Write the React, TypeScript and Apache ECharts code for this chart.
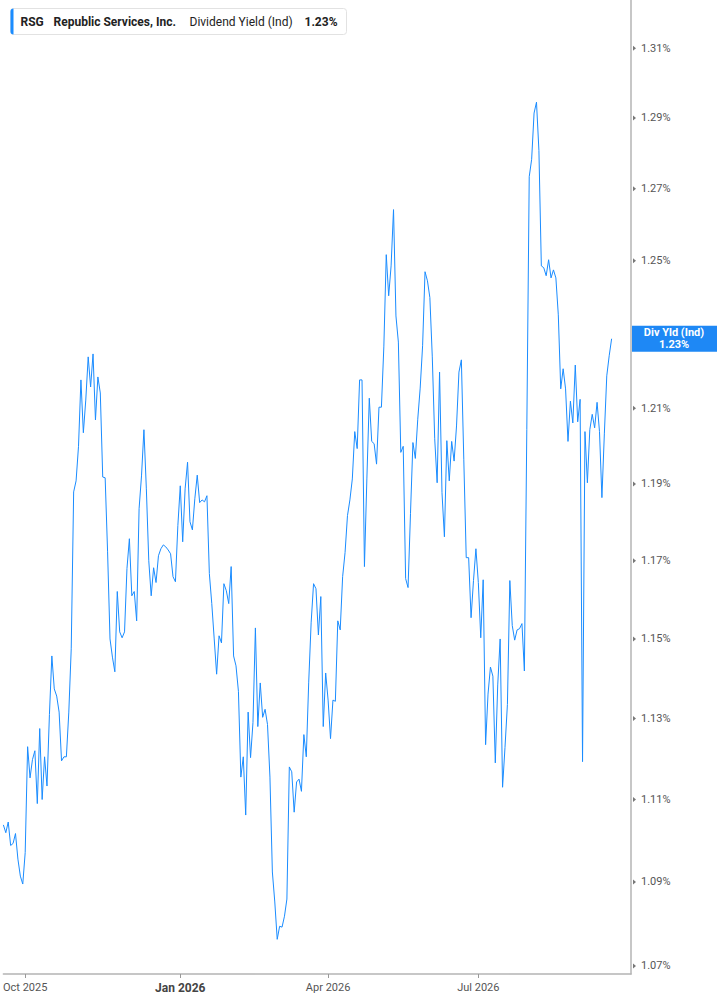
import { useEffect, useRef } from 'react';
import * as echarts from 'echarts';

// first trading day shown, number of slots on the axis and market holidays skipped
const startDate = '2025-09-18';
const slotCount = 260;
const holidays = [
  '2025-11-27', '2025-12-25', '2026-01-01', '2026-01-19', '2026-02-16',
  '2026-04-03', '2026-05-25', '2026-06-19', '2026-07-03', '2026-09-07',
];
const monthNames = ['Jan', 'Feb', 'Mar', 'Apr', 'May', 'Jun', 'Jul', 'Aug', 'Sep', 'Oct', 'Nov', 'Dec'];
const labelMonths = [0, 3, 6, 9];

// 1.23% sits under the current-value tag, so it is not listed
const yTicks = [1.07, 1.09, 1.11, 1.13, 1.15, 1.17, 1.19, 1.21, 1.25, 1.27, 1.29, 1.31];
const yMin = 1.0681;
const yMax = 1.3240;

// dividend yield (%), one value per trading day
const divYield = [
  1.1038, 1.1019, 1.1045, 1.0988, 1.0993, 1.1017, 1.0955, 1.0914, 1.0895, 1.0971,
  1.1230, 1.1153, 1.1198, 1.1220, 1.1090, 1.1275, 1.1100, 1.1205, 1.1133, 1.1310,
  1.1457, 1.1374, 1.1356, 1.1316, 1.1195, 1.1205, 1.1205, 1.1316, 1.1475, 1.1879,
  1.1908, 1.1999, 1.2176, 1.2035, 1.2122, 1.2238, 1.2157, 1.2246, 1.2069, 1.2184,
  1.2141, 1.1918, 1.1916, 1.1723, 1.1500, 1.1454, 1.1417, 1.1621, 1.1518, 1.1503,
  1.1518, 1.1680, 1.1757, 1.1610, 1.1621, 1.1546, 1.1835, 1.1921, 1.2043, 1.1887,
  1.1700, 1.1610, 1.1682, 1.1644, 1.1713, 1.1731, 1.1741, 1.1736, 1.1728, 1.1718,
  1.1659, 1.1646, 1.1791, 1.1895, 1.1749, 1.1887, 1.1957, 1.1801, 1.1780, 1.1861,
  1.1923, 1.1851, 1.1858, 1.1853, 1.1869, 1.1667, 1.1590, 1.1500, 1.1411, 1.1508,
  1.1490, 1.1641, 1.1623, 1.1590, 1.1685, 1.1457, 1.1432, 1.1368, 1.1155, 1.1205,
  1.1062, 1.1316, 1.1203, 1.1290, 1.1528, 1.1280, 1.1389, 1.1303, 1.1323, 1.1285,
  1.1155, 1.0924, 1.0852, 1.0763, 1.0794, 1.0792, 1.0818, 1.0859, 1.1180, 1.1168,
  1.1069, 1.1143, 1.1150, 1.1120, 1.1260, 1.1205, 1.1391, 1.1541, 1.1641, 1.1628,
  1.1510, 1.1608, 1.1280, 1.1414, 1.1346, 1.1250, 1.1346, 1.1343, 1.1546, 1.1523,
  1.1659, 1.1721, 1.1817, 1.1858, 1.1913, 1.2038, 1.1993, 1.2176, 1.2176, 1.1685,
  1.1913, 1.2127, 1.2012, 1.2006, 1.1952, 1.2103, 1.2103, 1.2265, 1.2517, 1.2404,
  1.2486, 1.2642, 1.2349, 1.2278, 1.1983, 1.1999, 1.1654, 1.1631, 1.1822, 1.2009,
  1.1967, 1.2071, 1.2154, 1.2268, 1.2470, 1.2445, 1.2399, 1.2238, 1.2019, 1.1903,
  1.2197, 1.1877, 1.1762, 1.2014, 1.1908, 1.2012, 1.1960, 1.2053, 1.2197, 1.2230,
  1.1965, 1.1708, 1.1708, 1.1554, 1.1649, 1.1731, 1.1644, 1.1503, 1.1651, 1.1235,
  1.1361, 1.1429, 1.1406, 1.1190, 1.1384, 1.1500, 1.1130, 1.1228, 1.1335, 1.1649,
  1.1534, 1.1497, 1.1523, 1.1526, 1.1539, 1.1419, 1.2043, 1.2734, 1.2783, 1.2914,
  1.2945, 1.2808, 1.2486, 1.2481, 1.2459, 1.2503, 1.2453, 1.2475, 1.2453, 1.2352,
  1.2152, 1.2206, 1.2152, 1.2012, 1.2119, 1.2061, 1.2216, 1.2064, 1.2124, 1.1193,
  1.2038, 1.1903, 1.2043, 1.2084, 1.2048, 1.2116, 1.2038, 1.1864, 1.2032, 1.2187,
  1.2241, 1.2287,
];

const lineColor = '#1a8cff';
const axisColor = '#b4b4b4';
const font = 'Roboto, "Noto Sans", sans-serif';

function buildTradingDays(start: string, count: number) {
  const out: string[] = [];
  const d = new Date(start + 'T00:00:00Z');
  while (out.length < count) {
    const iso = d.toISOString().slice(0, 10);
    const wd = d.getUTCDay();
    if (wd !== 0 && wd !== 6 && !holidays.includes(iso)) out.push(iso);
    d.setUTCDate(d.getUTCDate() + 1);
  }
  return out;
}

function App() {
  const chartRef = useRef(null);

  useEffect(() => {
    const myChart = echarts.init(chartRef.current, null, { renderer: 'svg' });

    const dates = buildTradingDays(startDate, slotCount);
    const monthOf = (s: string) => Number(s.slice(5, 7)) - 1;
    const isQuarterStart = (i: number) =>
      i > 0 && monthOf(dates[i]) !== monthOf(dates[i - 1]) && labelMonths.includes(monthOf(dates[i]));
    const lastIdx = dates.length - 1;
    const lastValue = divYield[divYield.length - 1];
    const lastText = lastValue.toFixed(2) + '%';

    const option = {
      animation: false,
      grid: { left: 0, right: 86, top: 0, bottom: 31 },
      xAxis: {
        type: 'category',
        data: dates,
        boundaryGap: false,
        axisLine: { lineStyle: { color: axisColor, width: 1.5 } },
        axisTick: {
          length: 4,
          interval: (i: number) => isQuarterStart(i),
          lineStyle: { color: '#999' },
        },
        axisLabel: {
          interval: (i: number) => isQuarterStart(i),
          margin: 8,
          color: '#555',
          fontSize: 11,
          fontFamily: font,
          formatter: (v: string) => {
            const m = monthOf(v);
            const label = monthNames[m] + ' ' + v.slice(0, 4);
            return m === 0 ? '{yr|' + label + '}' : label;
          },
          rich: {
            yr: { fontWeight: 'bold', fontSize: 12, color: '#444', fontFamily: font },
          },
        },
        splitLine: { show: false },
      },
      yAxis: {
        type: 'log',
        logBase: 10,
        position: 'right',
        min: yMin,
        max: yMax,
        axisLine: { show: true, lineStyle: { color: axisColor, width: 1.5 } },
        axisTick: { show: false },
        axisLabel: { show: false },
        splitLine: { show: false },
      },
      series: [
        {
          name: 'Dividend Yield (Ind)',
          type: 'line',
          data: divYield,
          showSymbol: false,
          silent: true,
          lineStyle: { color: lineColor, width: 1 },
          z: 2,
        },
        {
          type: 'custom',
          clip: false,
          silent: true,
          data: yTicks.map((t) => [lastIdx, t]),
          renderItem: (_params: any, api: any) => {
            const p = api.coord([api.value(0), api.value(1)]);
            return {
              type: 'group',
              children: [
                {
                  type: 'polygon',
                  shape: { points: [[p[0] + 2, p[1] - 2.5], [p[0] + 5, p[1]], [p[0] + 2, p[1] + 2.5]] },
                  style: { fill: '#777' },
                },
                {
                  type: 'text',
                  x: p[0] + 10,
                  y: p[1],
                  style: {
                    text: Number(api.value(1)).toFixed(2) + '%',
                    fill: '#555',
                    font: '11px ' + font,
                    verticalAlign: 'middle',
                  },
                },
              ],
            };
          },
          z: 3,
        },
        {
          type: 'custom',
          clip: false,
          silent: true,
          data: [[lastIdx, lastValue]],
          renderItem: (_params: any, api: any) => {
            const p = api.coord([api.value(0), api.value(1)]);
            return {
              type: 'group',
              children: [
                {
                  type: 'rect',
                  shape: { x: p[0] + 1, y: p[1] - 13, width: 86, height: 26 },
                  style: { fill: '#1e88f5' },
                },
                {
                  type: 'text',
                  x: p[0] + 43,
                  y: p[1] - 6,
                  style: {
                    text: 'Div Yld (Ind)',
                    fill: '#fff',
                    font: 'bold 11px ' + font,
                    align: 'center',
                    verticalAlign: 'middle',
                  },
                },
                {
                  type: 'text',
                  x: p[0] + 43,
                  y: p[1] + 6,
                  style: {
                    text: lastText,
                    fill: '#fff',
                    font: 'bold 11px ' + font,
                    align: 'center',
                    verticalAlign: 'middle',
                  },
                },
              ],
            };
          },
          z: 4,
        },
      ],
      graphic: [
        {
          type: 'group',
          left: 10,
          top: 8,
          children: [
            {
              type: 'rect',
              shape: { x: 0, y: 0, width: 336, height: 26, r: 3 },
              style: { fill: '#fff', stroke: '#e2e2e2', lineWidth: 1 },
            },
            {
              type: 'rect',
              shape: { x: 0, y: 0, width: 3, height: 26, r: [3, 0, 0, 3] },
              style: { fill: lineColor },
            },
            {
              type: 'text',
              x: 10,
              y: 13,
              style: { text: 'RSG', font: 'bold 12px ' + font, fill: '#222', verticalAlign: 'middle' },
            },
            {
              type: 'text',
              x: 43,
              y: 13,
              style: { text: 'Republic Services, Inc.', font: 'bold 12px ' + font, fill: '#222', verticalAlign: 'middle' },
            },
            {
              type: 'text',
              x: 179,
              y: 13,
              style: { text: 'Dividend Yield (Ind)', font: '12px ' + font, fill: '#222', verticalAlign: 'middle' },
            },
            {
              type: 'text',
              x: 294,
              y: 13,
              style: { text: lastText, font: 'bold 12px ' + font, fill: '#222', verticalAlign: 'middle' },
            },
          ],
        },
      ],
    };

    myChart.setOption(option);

    return () => {
      myChart.dispose();
    };
  }, []);

  return (
    <div
      ref={chartRef}
      style={{ position: 'absolute', left: 0, top: 0, width: '717px', height: '1005px' }}
    ></div>
  );
}

export default App;
